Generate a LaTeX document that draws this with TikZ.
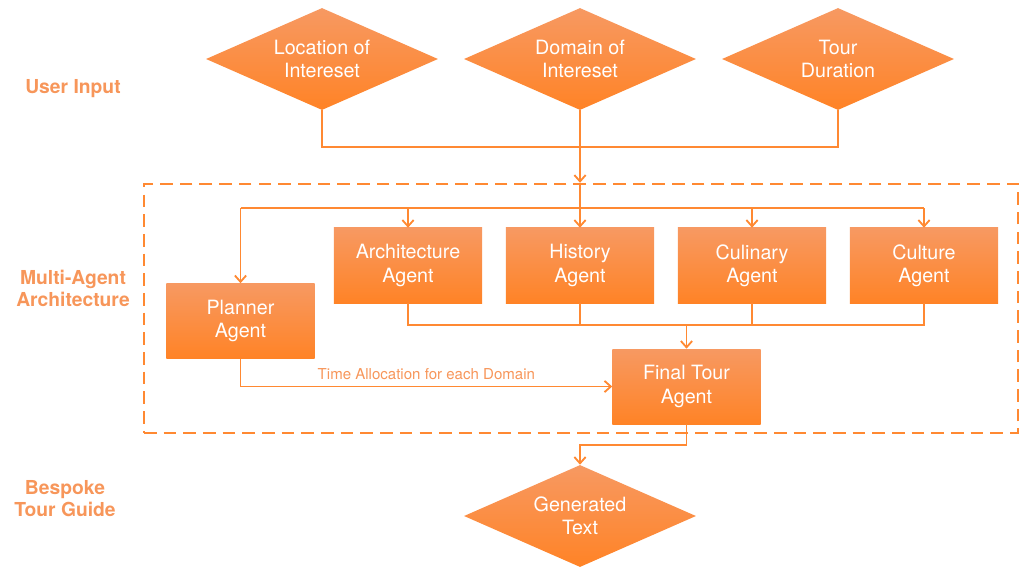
\documentclass[tikz,border=0pt]{standalone}
\usepackage{fontspec}
\setmainfont{TeX Gyre Heros}
\usepackage{tikz}
\usetikzlibrary{shapes.geometric, arrows.meta}
\usepackage[dvipsnames]{xcolor}

\definecolor{boxtop}{RGB}{247,153,98}
\definecolor{boxbot}{RGB}{255,131,38}
\definecolor{wire}{RGB}{255,137,50}
\definecolor{tagorange}{RGB}{247,150,90}

\tikzset{
	agent/.style={rectangle, top color=boxtop, bottom color=boxbot, draw=none,
		minimum width=3.7cm, minimum height=1.875cm, text=white, align=center,
		font=\fontsize{14}{16.5}\selectfont},
	inputbox/.style={diamond, top color=boxtop, bottom color=boxbot, draw=none,
		minimum width=5.8cm, minimum height=2.55cm, inner sep=0pt, aspect=2.27,
		text=white, align=center, font=\fontsize{14}{16.5}\selectfont},
	stage/.style={text=tagorange, align=center, font=\fontsize{13.7}{15.6}\selectfont\bfseries},
	wiring/.style={draw=wire, line width=1.3pt},
	arr/.style={wiring, -{Straight Barb[length=4.5pt, width=8pt, line width=1.3pt]}}
}

\begin{document}
\begin{tikzpicture}[x=0.025cm, y=-0.025cm]
%	\draw[help lines] (0,0)grid(1024,574);
	\useasboundingbox (0,0) rectangle (1024,574);

	%frame
	\node[draw=wire, line width=1.7pt, dash pattern=on 9pt off 5pt, minimum width=21.85cm, minimum height=6.225cm] (frame) at (581,308.5) {};

	%inputs
	\node[inputbox] (loc) at (322,59) {Location of\\Intereset};
	\node[inputbox] (dom) at (580,59) {Domain of\\Intereset};
	\node[inputbox] (dur) at (838,59) {Tour\\Duration};

	%agents
	\node[agent] (plan) at (240.5,321) {Planner\\Agent};
	\node[agent] (arch) at (408,265.5) {Architecture\\Agent};
	\node[agent] (hist) at (580,265.5) {History\\Agent};
	\node[agent] (culi) at (752,265.5) {Culinary\\Agent};
	\node[agent] (cult) at (924,265.5) {Culture\\Agent};
	\node[agent] (final) at (686.5,386.5) {Final Tour\\Agent};

	%output
	\node[inputbox] (gen) at (580,516) {Generated\\Text};

	%stages
	\node[stage] (ui) at (73,89) {User Input};
	\node[stage] (maa) at (73,288) {Multi-Agent\\Architecture};
	\node[stage] (btg) at (65,499) {Bespoke\\Tour Guide};

	%wires
	\coordinate (join) at (580,147);
	\coordinate (split) at (580,208);
	\coordinate (merge) at (686.5,325);
	\coordinate (bend) at (686.5,445);

	\draw[wiring] (loc.south) |- (join) -| (dur.south);
	\draw[arr] (dom.south) -- (dom.south |- frame.north);
	\draw[wiring] (dom.south |- frame.north) -- (split);
	\draw[wiring] (split -| plan.north) -- (split -| cult.north);
	\foreach \ag in {plan, arch, hist, culi, cult}
		\draw[arr] (split -| \ag.north) -- (\ag.north);

	\draw[wiring] (arch.south) |- (merge) -| (cult.south);
	\draw[wiring] (hist.south) -- (hist.south |- merge);
	\draw[wiring] (culi.south) -- (culi.south |- merge);
	\draw[arr] (merge) -- (final.north);

	\draw[arr] (plan.south) |- (final.west)
		node[pos=0.75, above=1pt, text=tagorange, font=\fontsize{10.7}{12}\selectfont] (timelbl) {Time Allocation for each Domain};

	\draw[arr] (final.south) |- (bend) -| (gen.north);
\end{tikzpicture}
\end{document}
